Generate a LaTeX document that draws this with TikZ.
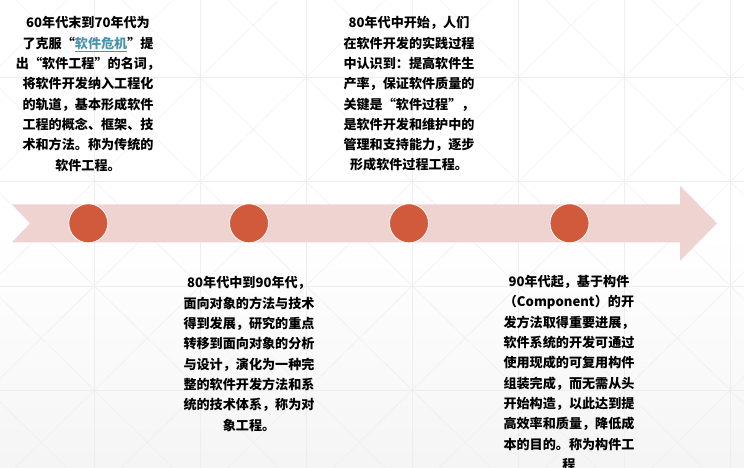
\documentclass[tikz,border=0pt]{standalone}
\usepackage{fontspec}
\newfontfamily\cjk{Noto Sans CJK SC}
\usetikzlibrary{positioning}
\definecolor{band}{HTML}{EFD3D1}
\definecolor{dotred}{HTML}{D15A3D}
\definecolor{link}{HTML}{4A93AD}
\definecolor{gridline}{HTML}{EEEEEE}

\begin{document}
\begin{tikzpicture}[x=1pt,y=1pt,
  dot/.style={circle,fill=dotred,draw=white,line width=0.8pt,minimum size=39pt,inner sep=0pt},
  note/.style={align=center,inner sep=0pt,font=\cjk\bfseries\fontsize{13.1}{20.3}\selectfont}]
  \useasboundingbox (0,0) rectangle (744,468);
  % background
  \fill[top color=white,bottom color=black!4] (0,0) rectangle (744,234);
  \begin{scope}
    \clip (0,0) rectangle (744,468);
    \foreach \i in {-1,...,6}
      \foreach \j in {-1,...,4} {
        \pgfmathsetmacro{\xa}{94.3+106*\i}
        \pgfmathsetmacro{\ya}{390.7-104.3*\j}
        \draw[gridline,line width=0.5pt] (\xa,\ya) rectangle ++(106,-104.3);
        \draw[gridline,line width=0.45pt] (\xa,\ya) -- ++(106,-104.3)
          (\xa+106,\ya) -- ++(-106,-104.3);
      }
  \end{scope}
  % arrow
  \fill[band] (12,263.7) -- (680,263.7) -- (680,282.3) -- (717,244.7)
    -- (680,207) -- (680,225.7) -- (12,225.7) -- (30,244.7) -- cycle;
  % dots
  \foreach \n/\x in {1/88.3,2/249,3/409,4/569.5}
    \node[dot] (c\n) at (\x,244.7) {};
  % texts
  \node[note] (t1) at (88,374) {60年代末到70年代为\\了克服“\textcolor{link}{\underline{软件危机}}”提\\出“软件工程”的名词，\\将软件开发纳入工程化\\的轨道，基本形成软件\\工程的概念、框架、技\\术和方法。称为传统的\\软件工程。};
  \node[note] (t2) at (409,374) {80年代中开始，人们\\在软件开发的实践过程\\中认识到：提高软件生\\产率，保证软件质量的\\关键是“软件过程”，\\是软件开发和维护中的\\管理和支持能力，逐步\\形成软件过程工程。};
  \node[note] (t3) at (249,114) {80年代中到90年代，\\面向对象的方法与技术\\得到发展，研究的重点\\转移到面向对象的分析\\与设计，演化为一种完\\整的软件开发方法和系\\统的技术体系，称为对\\象工程。};
  \node[note] (t4) at (569,95) {90年代起，基于构件\\（Component）的开\\发方法取得重要进展，\\软件系统的开发可通过\\使用现成的可复用构件\\组装完成，而无需从头\\开始构造，以此达到提\\高效率和质量，降低成\\本的目的。称为构件工\\程};
\end{tikzpicture}
\end{document}
